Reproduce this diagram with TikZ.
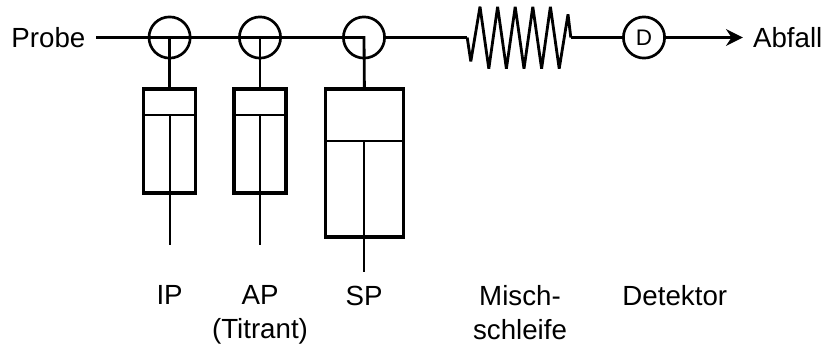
\documentclass[tikz,border=0pt]{standalone}
\usepackage{fontspec}
\setmainfont{Liberation Sans}
\usetikzlibrary{positioning, arrows.meta, calc}

\begin{document}
\begin{tikzpicture}[
  font=\fontsize{19.7}{23.7}\selectfont,
  align=center,
  % Styles for the blocks
  valve/.style={draw, circle, line width=1.9pt, minimum size=1.03cm, inner sep=0pt, outer sep=0pt},
  barrel/.style={draw, rectangle, line width=2.3pt, minimum width=1.3cm, outer sep=0pt, inner sep=0pt},
  caption/.style={anchor=north, inner sep=0pt},
  % Styles for the lines
  line/.style={draw, line width=2pt},
  rod/.style={draw, line width=1.5pt},
  flow/.style={draw, line width=2pt, -{Stealth[length=0.42cm, width=0.42cm, inset=0.14cm]}}
]
  \useasboundingbox (0,0) rectangle (20.675,-8.675);

  % ==========================================
  % SAMPLE LINE AND VALVES
  % ==========================================
  \node[anchor=west, inner sep=0pt] (probe) at (0.28,-0.9375) {Probe};
  \node[valve] (ipvalve) at (4.24,-0.9375) {};
  \node[valve, right=1.23cm of ipvalve] (apvalve) {};
  \node[valve, right=1.57cm of apvalve] (spvalve) {};

  % ==========================================
  % SYRINGES
  % ==========================================
  \node[barrel, minimum height=2.6cm, anchor=north] (ipbox) at (4.24,-2.225) {};
  \node[barrel, minimum height=2.6cm, anchor=north] (apbox) at (6.5,-2.225) {};
  \node[barrel, minimum width=1.95cm, minimum height=3.7cm, anchor=north] (spbox) at (9.11,-2.225) {};

  % Piston plates
  \coordinate (ippistonl) at ($(ipbox.north west)!0.25!(ipbox.south west)$);
  \coordinate (ippistonr) at ($(ipbox.north east)!0.25!(ipbox.south east)$);
  \coordinate (appistonl) at ($(apbox.north west)!0.25!(apbox.south west)$);
  \coordinate (appistonr) at ($(apbox.north east)!0.25!(apbox.south east)$);
  \coordinate (sppistonl) at ($(spbox.north west)!0.351!(spbox.south west)$);
  \coordinate (sppistonr) at ($(spbox.north east)!0.351!(spbox.south east)$);

  % Rod ends
  \coordinate[below=1.3cm of ipbox] (ipend);
  \coordinate[below=1.3cm of apbox] (apend);
  \coordinate[below=0.88cm of spbox] (spend);

  \draw[rod] (ippistonl) -- (ippistonr);
  \draw[rod] (appistonl) -- (appistonr);
  \draw[rod] (sppistonl) -- (sppistonr);
  \draw[rod] (ippistonl -| ipbox) -- (ipend);
  \draw[rod] (appistonl -| apbox) -- (apend);
  \draw[rod] (sppistonl -| spbox) -- (spend);

  % ==========================================
  % CONNECTIONS
  % ==========================================
  \draw[line] (probe.east) ++(0.26,0) -- (spvalve.center) -- (spbox.north);
  \draw[line] (ipvalve.center) -- (ipbox.north);
  \draw[line] (apvalve.center) -- (apbox.north);

  % Mixing loop
  \coordinate (mixin) at (11.68,-0.9375);
  \coordinate (mixout) at (14.27,-0.9375);
  \draw[line] (spvalve.east) -- (mixin);
  \draw[line, line join=miter, miter limit=6] (mixin)
    -- ++(0.09,-0.6) -- ++(0.23,1.37)
    -- ++(0.22,-1.55) -- ++(0.22,1.55) -- ++(0.22,-1.55) -- ++(0.22,1.55)
    -- ++(0.22,-1.55) -- ++(0.22,1.55) -- ++(0.22,-1.55) -- ++(0.22,1.55)
    -- ++(0.22,-1.55) -- ++(0.22,1.36) -- (mixout);

  % Detector
  \node[valve, font=\fontsize{16}{18}\selectfont] (detector) at (16.1,-0.9375) {D};
  \node[anchor=west, inner sep=0pt] (waste) at (18.82,-0.9375) {Abfall};
  \draw[line] (mixout) -- (detector);
  \draw[flow] (detector) -- ($(waste.west)+(-0.25,0)$);

  % ==========================================
  % LABELS
  % ==========================================
  \coordinate (labelrow) at (0,-7.14);
  \node[caption] (iplabel) at (ipvalve |- labelrow) {IP};
  \node[caption] (aplabel) at (apvalve |- labelrow) {AP\\(Titrant)};
  \node[caption] (splabel) at (spvalve |- labelrow) {SP};
  \node[caption] (mixlabel) at (13,-7.14) {Misch-\\schleife};
  \node[caption] (detlabel) at (16.87,-7.14) {Detektor};
\end{tikzpicture}
\end{document}
